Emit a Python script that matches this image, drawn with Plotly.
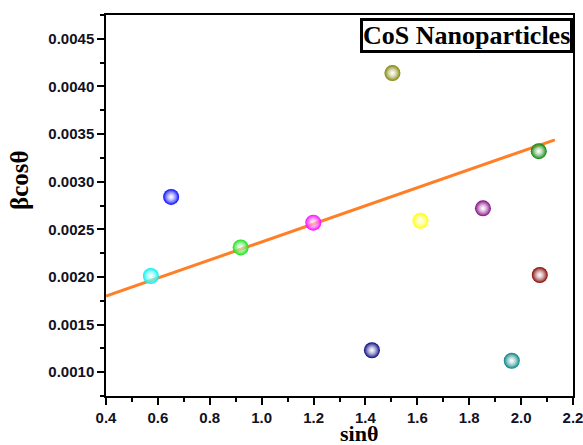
import plotly.graph_objects as go

# Data
sin_theta = [0.573, 0.651, 0.919, 1.199, 1.425, 1.504, 1.612, 1.853, 1.964, 2.068, 2.072]
beta_cos = [0.00201, 0.00284, 0.00231, 0.00257, 0.00123, 0.00414, 0.00259, 0.00272, 0.00112, 0.00332, 0.00202]
colors = ["#00F0F0", "#0000FF", "#10E010", "#FF00FF", "#000080", "#808000",
          "#FFFF00", "#800080", "#008080", "#008000", "#800000"]

fit_x = [0.4, 2.13]
fit_slope = 0.000948
fit_intercept = 0.00142
fit_y = [fit_intercept + fit_slope * v for v in fit_x]

x_ticks = [0.4, 0.6, 0.8, 1.0, 1.2, 1.4, 1.6, 1.8, 2.0, 2.2]
y_ticks = [0.0010, 0.0015, 0.0020, 0.0025, 0.0030, 0.0035, 0.0040, 0.0045]

fig = go.Figure()
fig.add_trace(go.Scatter(x=fit_x, y=fit_y, mode="lines",
                         line=dict(color="#FF7F27", width=3), showlegend=False))
fig.add_trace(go.Scatter(x=sin_theta, y=beta_cos, mode="markers",
                         marker=dict(size=16, color=colors, line=dict(width=0),
                                     gradient=dict(type="radial", color="rgba(255,255,255,0.5)")),
                         showlegend=False))

tickfont = dict(family="Liberation Sans, Arial", size=15, color="#111122")
serif = "Liberation Serif, Times New Roman"
fig.update_layout(
    width=583, height=445,
    margin=dict(l=106, r=10, t=15, b=49),
    paper_bgcolor="white", plot_bgcolor="white",
    xaxis=dict(range=[0.4, 2.2], tickvals=x_ticks, ticktext=[f"<b>{v:.1f}</b>" for v in x_ticks],
               ticks="outside", ticklen=7, tickwidth=1.5, tickcolor="black", automargin=False,
               ticklabeloverflow="allow", ticklabelstandoff=0,
               minor=dict(dtick=0.1, ticks="outside", ticklen=4, tickwidth=1.5, tickcolor="black"),
               showline=True, linecolor="black", linewidth=1.5, mirror=True,
               showgrid=False, zeroline=False, tickfont=tickfont),
    yaxis=dict(range=[0.00075, 0.00475], tickvals=y_ticks, ticktext=[f"<b>{v:.4f}</b>" for v in y_ticks],
               ticks="outside", ticklen=7, tickwidth=1.5, tickcolor="black", automargin=False,
               minor=dict(dtick=0.00025, ticks="outside", ticklen=4, tickwidth=1.5, tickcolor="black"),
               showline=True, linecolor="black", linewidth=1.5, mirror=True,
               showgrid=False, zeroline=False, tickfont=tickfont),
    annotations=[
        dict(text="<b>CoS Nanoparticles</b>", xref="paper", yref="paper",
             x=1.0, y=0.993, xanchor="right", yanchor="top", showarrow=False,
             font=dict(family=serif, size=26, color="black"),
             bordercolor="black", borderwidth=3, borderpad=0, bgcolor="white"),
        dict(text="<b>sinθ</b>", xref="paper", yref="paper", x=0.541, y=0.0, yshift=-23,
             xanchor="center", yanchor="top", showarrow=False,
             font=dict(family=serif, size=22, color="black")),
        dict(text="<b>βcosθ</b>", xref="paper", yref="paper", x=-0.184, y=0.567,
             xanchor="center", yanchor="middle", showarrow=False, textangle=-90,
             font=dict(family=serif, size=25, color="black")),
    ],
)

fig.write_html("out.html", config={"displayModeBar": False},
               post_script="document.body.style.margin='0';")
